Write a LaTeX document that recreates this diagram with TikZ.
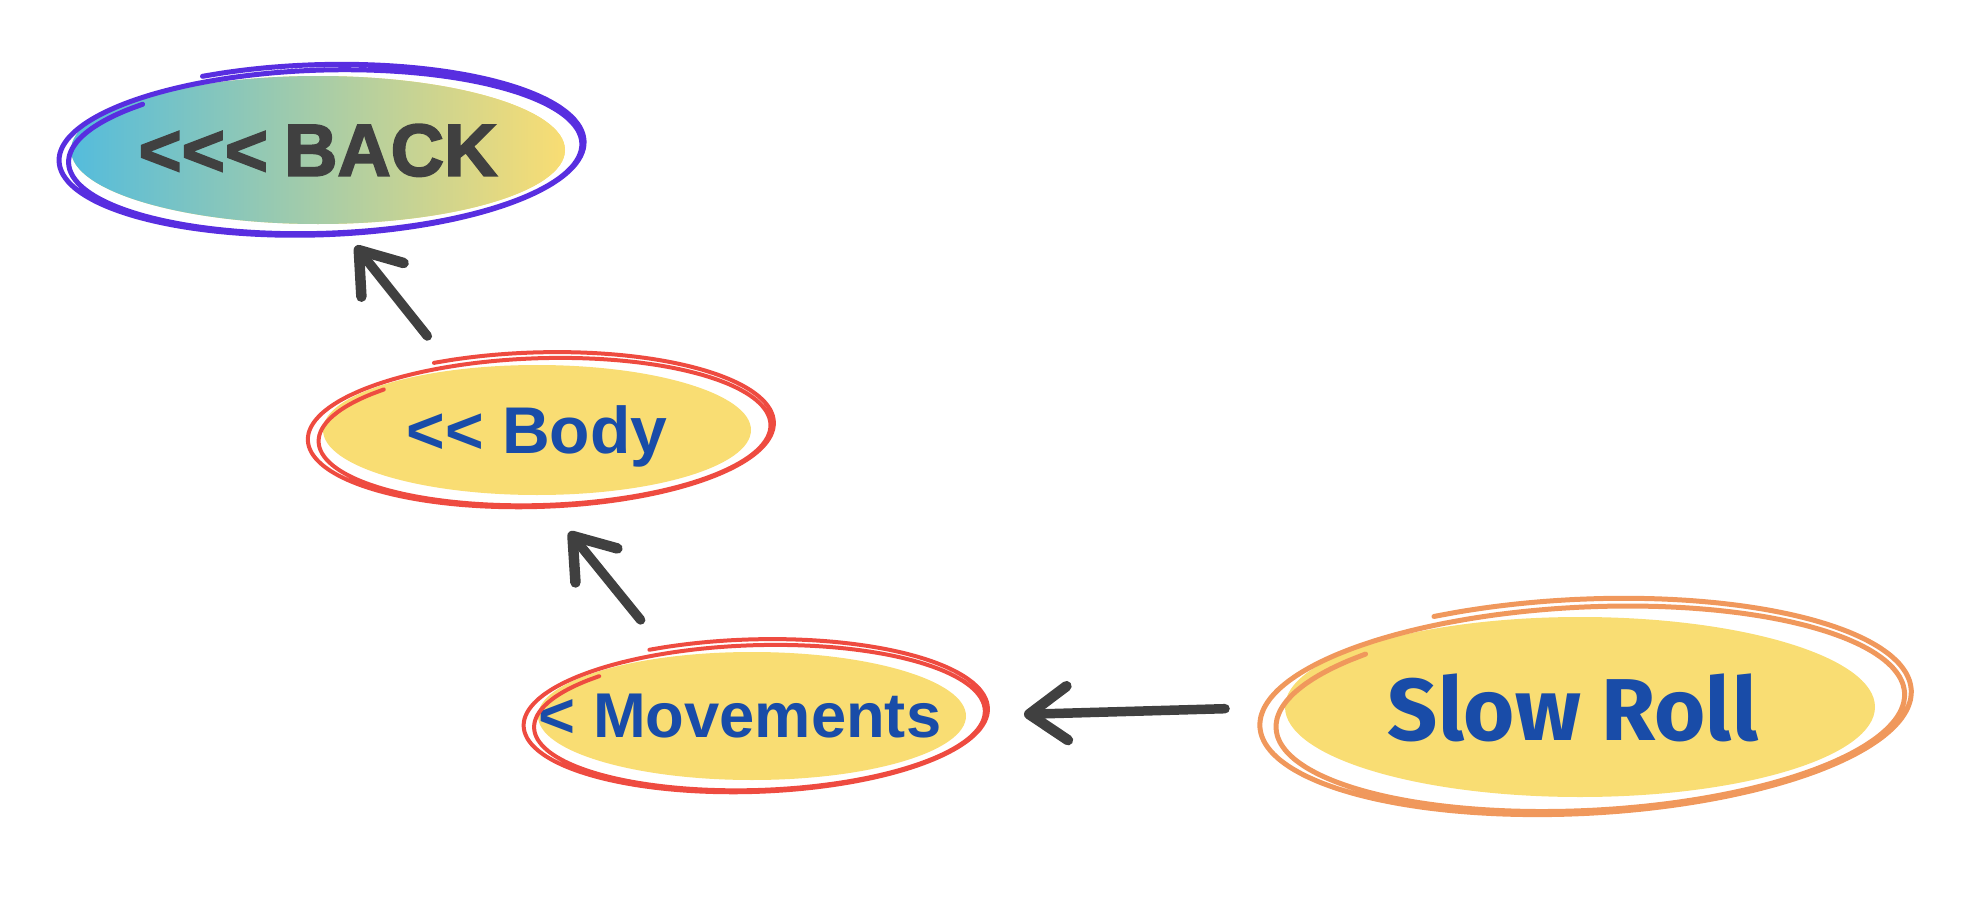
\documentclass[tikz,border=0pt]{standalone}
\usepackage{fontspec}
\setmainfont{Liberation Sans}
\newfontfamily\backfont{Liberation Sans}[BoldFeatures={FakeBold=2.5}]
\newfontfamily\slowfont{Fira Sans}
\usetikzlibrary{shapes.geometric,arrows.meta}

\definecolor{backline}{RGB}{88,46,224}
\definecolor{redline}{RGB}{238,75,64}
\definecolor{orangeline}{RGB}{240,152,92}
\definecolor{bubbleyellow}{RGB}{249,221,115}
\definecolor{backcyan}{RGB}{84,188,220}
\definecolor{labelblue}{RGB}{25,76,168}
\definecolor{arrowgray}{RGB}{64,64,64}

\tikzset{
  bubble/.style={ellipse, inner sep=0pt, outer sep=0pt, text depth=0pt,
    fill=bubbleyellow, text=labelblue},
  arr/.style={draw=arrowgray, line width=0.95mm, line cap=round,
    -{Straight Barb[length=3.8mm,width=5.4mm,line width=1.05mm,round]}},
}

% zero-width label, so the text does not grow the ellipse
\newcommand{\lbl}[1]{\makebox[0pt]{#1}}

% hand-drawn loops round a node:
% node, style, rx, ry, extra rx, extra ry, tilt, drift x, drift y
\newcommand{\scribble}[9]{%
  \draw[#2, line cap=round, line join=round, shift={(#1.center)}, rotate=#7]
    plot[smooth, samples=141, domain=115:-585]
    ({#8*(115-\x)/700+(#3+#5*(1.05-0.6*(115-\x)/700))*cos(\x)},
     {#9*(115-\x)/700+(#4+#6*(1.3-0.75*(115-\x)/700))*sin(\x)});}

\begin{document}
\begin{tikzpicture}[x=0.1mm,y=0.1mm]
  \useasboundingbox (0,0) rectangle (1986,916);

  \node[bubble, minimum width=49.4mm, minimum height=14.8mm,
    left color=backcyan, right color=bubbleyellow, text=arrowgray,
    font=\backfont\bfseries\fontsize{21pt}{25pt}\selectfont]
    (back) at (318,766) {\lbl{<{}<{}<\hspace{0.22em}BACK}};
  \node[bubble, minimum width=42.8mm, minimum height=13mm,
    font=\bfseries\fontsize{18.8pt}{22pt}\selectfont]
    (body) at (537,486) {\lbl{<{}< Body}};
  \node[bubble, minimum width=42.8mm, minimum height=12.8mm,
    font=\bfseries\fontsize{18pt}{22pt}\selectfont]
    (moves) at (752,200) {\lbl{\hspace*{-2.4mm}< Movements}};
  \node[bubble, minimum width=59mm, minimum height=18mm,
    font=\slowfont\bfseries\fontsize{25pt}{30pt}\selectfont]
    (slow) at (1580,209) {\lbl{\hspace*{-1.4mm}Slow Roll}};

  \scribble{back}{backline, line width=0.5mm}{247}{74}{19}{9}{2}{7}{-4}
  \scribble{body}{redline, line width=0.4mm}{214}{65}{23}{10}{2}{7}{-4}
  \scribble{moves}{redline, line width=0.4mm}{214}{64}{22}{10}{2}{7}{-4}
  \scribble{slow}{orangeline, line width=0.5mm}{295}{90}{37}{14}{3}{9}{-5}

  \draw[arr, shorten <=4.35mm, shorten >=2.85mm] (body.144) -- (back.-75);
  \draw[arr, shorten <=4.75mm, shorten >=4.75mm] (moves.144) -- (body.-88);
  \draw[arr, shorten <=6mm, shorten >=5.8mm] (slow.west) -- (moves.east);
\end{tikzpicture}
\end{document}
